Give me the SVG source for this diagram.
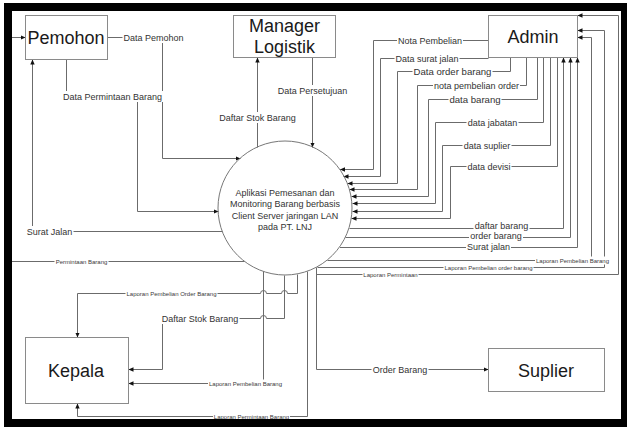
<svg xmlns="http://www.w3.org/2000/svg" width="627" height="427" viewBox="0 0 627 427">
<style>
.ln{fill:none;stroke:#6b6b6b;stroke-width:1}
.arr{marker-end:url(#ah)}
.box{fill:#fff;stroke:#8a8a8a;stroke-width:1}
.big{font-family:"Liberation Sans",Arial,sans-serif;font-size:18px;fill:#1a1a1a;text-anchor:middle}
.t9{font-family:"Liberation Sans",Arial,sans-serif;font-size:9px;fill:#333;text-anchor:middle}
.t10{font-family:"Liberation Sans",Arial,sans-serif;font-size:9.6px;fill:#333;text-anchor:middle}
.t6{font-family:"Liberation Sans",Arial,sans-serif;font-size:6px;fill:#3a3a3a;text-anchor:middle}
.bg{fill:#fff}
</style>
<defs>
<marker id="ah" markerUnits="userSpaceOnUse" markerWidth="6" markerHeight="6" refX="5" refY="2.2" orient="auto">
<path d="M0,0 L5,2.2 L0,4.4 Z" fill="#111"/>
</marker>
</defs>
<rect x="0" y="0" width="627" height="427" fill="#fff"/>

<g id="connectors" transform="translate(0.5,0.5)">
<path class="ln arr" d="M107,37 H162 V158 H240"/>
<path class="ln arr" d="M66,59 V96 H137 V211 H218"/>
<path class="ln arr" d="M222,231 H32 V59"/>
<path class="ln arr" d="M244,261 H8 V37 H25"/>
<path class="ln arr" d="M257,147 V57"/>
<path class="ln arr" d="M312,57 V147"/>
<path class="ln arr" d="M488,40 H373 V169 H339.5"/>
<path class="ln arr" d="M488,58 H380 V176 H343"/>
<path class="ln arr" d="M510,57 V71 H397 V183 H347"/>
<path class="ln arr" d="M526,57 V85 H417 V189 H349"/>
<path class="ln arr" d="M537,57 V99 H428 V196 H351"/>
<path class="ln arr" d="M543,57 V122 H435 V203 H352"/>
<path class="ln arr" d="M550,57 V145 H442 V211 H352"/>
<path class="ln arr" d="M557,57 V166 H450 V218 H351"/>
<path class="ln arr" d="M349,228 H563 V57"/>
<path class="ln arr" d="M345,237 H570 V57"/>
<path class="ln arr" d="M339.5,247 H577 V57"/>
<path class="ln arr" d="M327,260 H591 V37 H577"/>
<path class="ln arr" d="M317,267 H604 V30 H577"/>
<path class="ln arr" d="M316,274 H618 V15 H577"/>
<path class="ln arr" d="M297,274 V293 H287 A3,3 0 0 0 281,293 H266 A3,3 0 0 0 260,293 H77 V337"/>
<path class="ln arr" d="M284,275 V318 H266 A3,3 0 0 0 260,318 H162 V369 H128"/>
<path class="ln arr" d="M263,271 V383 H128"/>
<path class="ln arr" d="M307,271 V416 H77 V403"/>
<path class="ln arr" d="M316,267 V369 H488"/>

<g id="labels">
<rect class="bg" x="122" y="31.5" width="62" height="11"/><text class="t9" x="153" y="40.2">Data Pemohon</text>
<rect class="bg" x="61.5" y="90.5" width="101" height="11"/><text class="t9" x="112" y="99.2">Data Permintaan Barang</text>
<rect class="bg" x="25" y="225.5" width="48" height="11"/><text class="t9" x="49" y="234.2">Surat Jalan</text>
<rect class="bg" x="54" y="257" width="54" height="8"/><text class="t6" x="81" y="263.1">Permintaan Barang</text>
<rect class="bg" x="217.5" y="111.5" width="79" height="11"/><text class="t9" x="257" y="120.2">Daftar Stok Barang</text>
<rect class="bg" x="276" y="84.5" width="72" height="11"/><text class="t9" x="312" y="93.2">Data Persetujuan</text>
<rect class="bg" x="396.5" y="34.5" width="66" height="11"/><text class="t9" x="429.5" y="43.2">Nota Pembelian</text>
<rect class="bg" x="394" y="52.5" width="65" height="11"/><text class="t9" x="426.5" y="61.2">Data surat jalan</text>
<rect class="bg" x="412" y="65" width="80" height="12"/><text class="t10" x="452" y="74.4">Data order barang</text>
<rect class="bg" x="432.5" y="79.5" width="87" height="11"/><text class="t9" x="476" y="88.2">nota pembelian order</text>
<rect class="bg" x="448" y="93" width="53" height="12"/><text class="t10" x="474.5" y="102.4">data barang</text>
<rect class="bg" x="466" y="116.5" width="52" height="11"/><text class="t9" x="492" y="125.2">data jabatan</text>
<rect class="bg" x="462" y="139.5" width="49" height="11"/><text class="t9" x="486.5" y="148.2">data suplier</text>
<rect class="bg" x="466" y="160.5" width="45" height="11"/><text class="t9" x="488.5" y="169.2">data devisi</text>
<rect class="bg" x="473" y="220" width="56" height="11"/><text class="t9" x="501" y="228.7">daftar barang</text>
<rect class="bg" x="468.5" y="230" width="54" height="11"/><text class="t9" x="495.5" y="238.7">order barang</text>
<rect class="bg" x="465.5" y="240.5" width="45" height="11"/><text class="t9" x="488" y="249.2">Surat jalan</text>
<rect class="bg" x="534.5" y="256" width="75" height="8"/><text class="t6" x="572" y="262.1">Laporan Pembelian Barang</text>
<rect class="bg" x="443" y="263" width="90" height="8"/><text class="t6" x="488" y="269.1">Laporan Pembelian order barang</text>
<rect class="bg" x="362" y="270" width="56" height="8"/><text class="t6" x="390" y="276.1">Laporan Permintaan</text>
<rect class="bg" x="125" y="289" width="92" height="8"/><text class="t6" x="171" y="295.1">Laporan Pembelian Order Barang</text>
<rect class="bg" x="160" y="312.5" width="79" height="11"/><text class="t9" x="199.5" y="321.2">Daftar Stok Barang</text>
<rect class="bg" x="207.5" y="379" width="75" height="8"/><text class="t6" x="245" y="385.1">Laporan Pembelian Barang</text>
<rect class="bg" x="212.5" y="412" width="77" height="8"/><text class="t6" x="251" y="418.1">Laporan Permintaan Barang</text>
<rect class="bg" x="371" y="363.5" width="57" height="11"/><text class="t9" x="399.5" y="372.2">Order Barang</text>
</g>
</g>

<g id="pemohon"><rect class="box" x="25.5" y="15.5" width="82" height="44"/><text class="big" x="66" y="43.5">Pemohon</text></g>
<g id="manager-logistik"><rect class="box" x="233.5" y="15.5" width="102" height="42"/><text class="big" x="284.5" y="31.5">Manager</text><text class="big" x="284.5" y="52.5">Logistik</text></g>
<g id="admin"><rect class="box" x="488.5" y="15.5" width="89" height="42"/><text class="big" x="533" y="43">Admin</text></g>
<g id="kepala"><rect class="box" x="25.5" y="337.5" width="103" height="66"/><text class="big" x="76" y="376.5">Kepala</text></g>
<g id="suplier"><rect class="box" x="488.5" y="348.5" width="116" height="43"/><text class="big" x="546" y="376.5">Suplier</text></g>
<g id="proses">
<circle cx="285" cy="208" r="67" fill="none" stroke="#777" stroke-width="1"/>
<text class="t9" x="285" y="196">Aplikasi Pemesanan dan</text>
<text class="t9" x="285" y="207.3">Monitoring Barang berbasis</text>
<text class="t9" x="285" y="218.6">Client Server jaringan LAN</text>
<text class="t9" x="285" y="230">pada PT. LNJ</text>
</g>

<path d="M4,3 H627 V427 H4 Z M12,11 V419 H621 V11 Z" fill="#000" fill-rule="evenodd"/>
</svg>
